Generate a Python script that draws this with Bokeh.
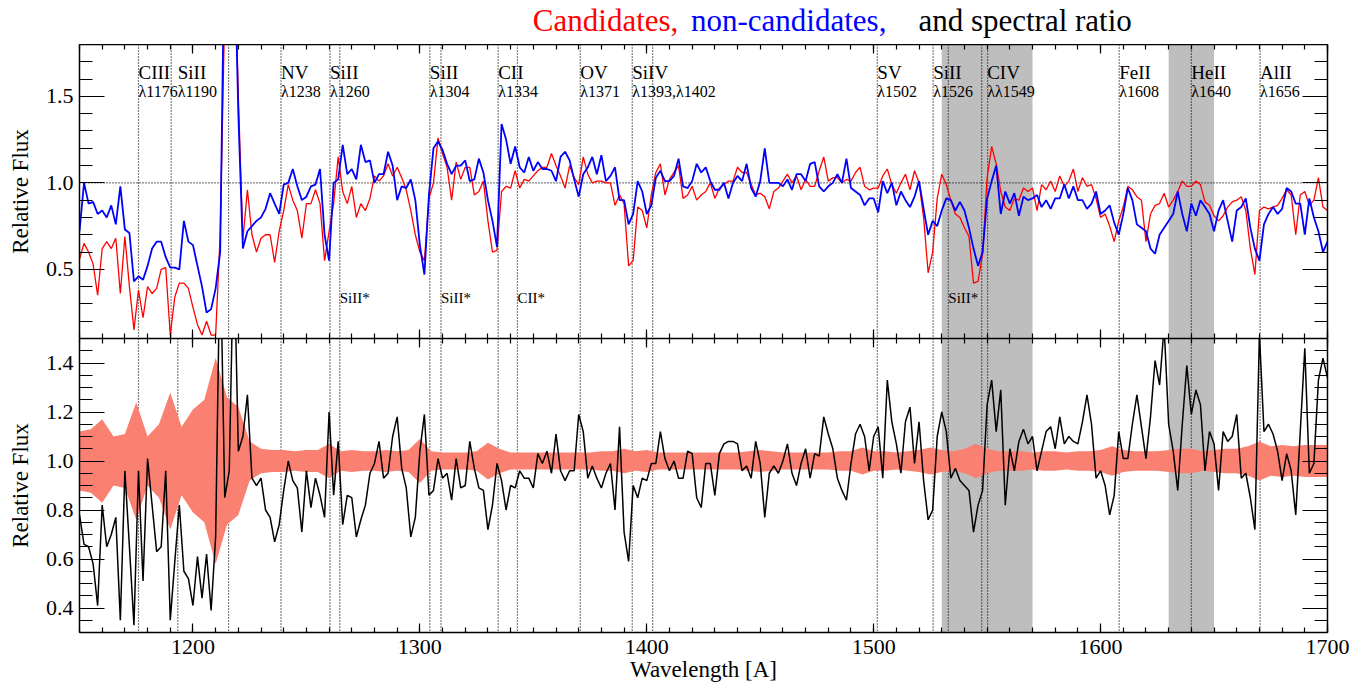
import numpy as np
from bokeh.plotting import figure
from bokeh.layouts import column
from bokeh.models import (Range1d, LinearAxis, FixedTicker, Span, BoxAnnotation,
                          ColumnDataSource, PrintfTickFormatter)
from bokeh.core.properties import value
from bokeh.embed import file_html
from bokeh.resources import INLINE

FONT = "Liberation Serif"

# ---------------- data ----------------
wave = list(range(1150, 1701, 2))  # sampling grid (A)

red = [
    0.56, 0.65, 0.60, 0.53, 0.35, 0.62, 0.66, 0.62, 0.68, 0.36, 0.69, 0.40, 0.15, 0.38, 0.22, 0.40, 0.36, 0.39, 0.50, 0.51, 0.12, 0.34, 0.42, 0.42, 0.39,
    0.28, 0.18, 0.12, 0.20, 0.12, 0.12, 0.70, 2.0, 3.0, 2.5, 1.5, 0.67, 0.96, 0.70, 0.60, 0.68, 0.70, 0.70, 0.54, 0.72, 0.84, 0.99, 0.90, 0.84, 0.68,
    0.88, 0.88, 0.96, 0.88, 0.55, 0.72, 0.88, 1.15, 0.95, 0.88, 0.98, 0.80, 0.88, 0.84, 0.91, 1.04, 1.01, 1.04, 1.11, 1.04, 1.09, 1.03, 0.96, 0.84, 0.70,
    0.60, 0.55, 0.91, 1.00, 1.26, 1.17, 1.09, 0.90, 1.12, 1.02, 1.09, 1.09, 0.93, 0.95, 1.01, 0.78, 0.60, 0.61, 0.95, 0.98, 0.97, 1.07, 0.97, 1.02, 1.01,
    1.04, 1.07, 1.09, 1.09, 1.17, 1.10, 1.04, 0.97, 1.10, 1.03, 0.99, 1.15, 1.05, 1.00, 1.01, 1.01, 1.00, 1.00, 0.87, 0.93, 0.88, 0.52, 0.55, 0.86, 0.84,
    0.74, 0.93, 1.06, 1.11, 0.93, 1.02, 1.06, 1.10, 0.91, 0.93, 0.98, 0.90, 0.93, 0.95, 1.00, 0.91, 0.97, 0.99, 1.01, 1.01, 1.09, 1.06, 1.06, 0.99, 0.93,
    0.94, 0.92, 0.85, 0.95, 0.97, 1.01, 1.05, 1.00, 1.04, 0.96, 1.02, 0.98, 0.98, 1.07, 1.15, 1.01, 1.03, 1.03, 1.00, 1.02, 1.01, 1.06, 1.09, 0.98, 0.96,
    0.97, 0.97, 1.04, 1.08, 0.99, 0.94, 1.00, 1.05, 0.96, 1.07, 1.00, 0.80, 0.48, 0.60, 0.91, 1.05, 0.99, 0.90, 0.82, 0.80, 0.74, 0.69, 0.42, 0.43, 0.59,
    1.03, 1.21, 1.11, 0.95, 0.86, 0.84, 0.91, 0.90, 0.97, 0.95, 0.97, 0.84, 0.99, 0.96, 1.01, 0.95, 1.04, 0.98, 1.01, 1.08, 0.95, 1.03, 0.98, 0.99, 0.91,
    0.80, 0.82, 0.75, 0.66, 0.78, 0.86, 0.98, 0.96, 0.92, 0.90, 0.66, 0.82, 0.87, 0.88, 0.94, 0.86, 0.90, 0.95, 1.01, 0.98, 0.98, 1.01, 0.99, 0.89, 0.87,
    0.81, 0.78, 0.81, 0.86, 0.89, 0.90, 0.92, 0.84, 0.62, 0.47, 0.84, 0.86, 0.85, 0.86, 0.87, 0.91, 0.96, 0.93, 0.70, 0.93, 0.95, 0.87, 0.90, 1.03, 0.86, 0.84,
]

blue = [
    0.72, 1.00, 0.88, 0.89, 0.82, 0.84, 0.80, 0.87, 0.76, 0.98, 0.73, 0.71, 0.43, 0.46, 0.44, 0.52, 0.62, 0.66, 0.66, 0.57, 0.51, 0.51, 0.50, 0.78, 0.66,
    0.64, 0.52, 0.40, 0.25, 0.27, 0.39, 0.60, 2.5, 3.0, 2.5, 1.4, 0.62, 0.72, 0.75, 0.78, 0.80, 0.85, 0.94, 0.88, 0.82, 0.99, 1.00, 1.08, 0.98, 0.90,
    0.92, 0.98, 0.99, 1.08, 0.70, 0.55, 1.00, 1.02, 1.22, 1.05, 1.08, 1.02, 1.22, 1.12, 1.13, 1.00, 1.05, 1.05, 1.18, 1.10, 0.90, 0.98, 0.97, 1.02, 0.90,
    0.64, 0.47, 0.93, 1.20, 1.24, 1.19, 1.11, 1.05, 1.10, 1.10, 1.13, 1.01, 1.02, 1.14, 1.06, 0.90, 0.78, 0.63, 1.34, 1.25, 1.11, 1.21, 1.09, 1.06, 1.15,
    1.07, 1.12, 1.08, 1.08, 1.07, 1.01, 1.15, 1.18, 1.13, 1.02, 0.92, 1.05, 1.09, 1.15, 1.05, 1.16, 1.01, 1.04, 1.09, 0.90, 0.90, 0.76, 0.82, 1.01, 0.95,
    0.82, 0.87, 1.03, 1.07, 1.01, 1.01, 1.04, 1.14, 0.98, 0.97, 1.01, 1.11, 1.06, 1.09, 1.01, 0.96, 0.96, 1.00, 0.91, 1.00, 1.04, 1.01, 1.11, 0.97, 0.92,
    1.01, 1.20, 1.00, 1.00, 1.00, 0.98, 1.02, 0.96, 1.05, 1.05, 1.01, 1.11, 1.12, 0.98, 0.95, 0.98, 1.00, 1.05, 1.00, 1.14, 0.97, 0.95, 0.93, 0.87, 0.91,
    0.91, 0.83, 1.01, 0.94, 1.00, 0.87, 0.95, 0.90, 0.86, 0.92, 1.01, 0.85, 0.70, 0.78, 0.75, 0.84, 0.91, 0.90, 0.84, 0.89, 0.84, 0.74, 0.62, 0.52, 0.60,
    0.91, 1.01, 1.10, 0.82, 0.95, 0.88, 0.94, 0.81, 0.92, 0.90, 0.91, 0.93, 0.86, 0.90, 0.85, 0.91, 0.91, 0.99, 0.91, 0.98, 0.90, 0.90, 0.85, 0.88, 0.95,
    0.82, 0.84, 0.87, 0.77, 0.70, 0.82, 0.97, 0.90, 0.76, 0.74, 0.72, 0.62, 0.59, 0.70, 0.74, 0.78, 0.82, 0.95, 0.82, 0.72, 0.88, 0.81, 0.90, 0.86, 0.82,
    0.72, 0.84, 0.90, 0.78, 0.66, 0.84, 0.86, 0.91, 0.74, 0.62, 0.55, 0.76, 0.82, 0.86, 0.82, 0.85, 0.97, 0.95, 0.88, 0.88, 0.70, 0.91, 0.80, 0.72, 0.60, 0.66,
]

ratio = [
    0.78, 0.66, 0.65, 0.58, 0.41, 0.82, 0.65, 0.70, 0.77, 0.35, 0.96, 0.65, 0.33, 0.96, 0.51, 1.01, 0.82, 0.63, 0.65, 0.96, 0.35, 0.59, 0.82, 0.55, 0.52,
    0.41, 0.61, 0.44, 0.62, 0.39, 0.69, 1.9, 0.85, 0.96, 1.9, 1.04, 1.10, 1.27, 0.93, 0.90, 0.93, 0.80, 0.77, 0.67, 0.74, 0.88, 1.00, 0.92, 0.89, 0.71,
    0.96, 0.81, 0.93, 0.86, 0.77, 1.20, 0.86, 1.08, 0.74, 0.86, 0.85, 0.69, 0.76, 0.82, 0.95, 0.99, 1.08, 0.93, 0.95, 1.10, 1.18, 0.97, 0.89, 0.69, 0.77,
    1.04, 1.19, 0.86, 0.88, 1.01, 0.93, 0.95, 0.84, 1.01, 0.89, 0.90, 1.08, 0.97, 0.89, 0.88, 0.72, 0.82, 0.99, 0.92, 0.80, 0.90, 0.89, 0.96, 0.93, 0.93,
    0.89, 1.03, 0.99, 1.04, 0.95, 1.11, 0.96, 0.92, 0.96, 0.96, 1.19, 1.12, 0.93, 0.98, 0.93, 0.89, 0.95, 0.99, 0.80, 1.14, 0.71, 0.59, 0.90, 0.85, 0.93,
    0.92, 0.99, 0.99, 1.12, 1.01, 0.96, 1.00, 0.93, 0.93, 1.04, 1.03, 0.85, 0.81, 0.99, 0.99, 0.86, 1.03, 1.07, 1.08, 1.08, 1.07, 0.96, 0.98, 0.93, 1.08,
    0.99, 0.77, 0.95, 0.98, 0.95, 1.00, 1.07, 0.95, 0.90, 0.99, 1.05, 0.93, 1.03, 1.02, 1.18, 1.11, 1.05, 0.93, 0.88, 0.84, 0.99, 1.11, 1.15, 1.10, 0.96,
    1.10, 1.14, 0.93, 1.33, 1.16, 1.07, 0.95, 1.16, 1.22, 0.99, 1.16, 0.92, 0.76, 0.80, 1.10, 1.20, 1.12, 0.93, 0.97, 0.92, 0.90, 0.88, 0.71, 0.82, 0.88,
    1.23, 1.33, 1.12, 1.29, 0.82, 1.05, 0.96, 1.08, 1.13, 1.07, 1.10, 0.96, 1.04, 1.12, 1.14, 1.05, 1.18, 1.07, 1.10, 1.08, 1.07, 1.16, 1.27, 1.15, 0.93,
    0.96, 0.90, 0.78, 0.86, 1.12, 1.01, 1.01, 1.15, 1.27, 1.14, 1.01, 1.18, 1.41, 1.31, 1.55, 1.15, 1.04, 0.88, 1.15, 1.39, 1.19, 1.29, 1.23, 0.96, 1.12,
    1.07, 0.88, 1.12, 1.08, 1.10, 1.19, 0.93, 0.95, 0.85, 0.72, 1.52, 1.12, 1.15, 1.11, 1.04, 0.92, 1.03, 0.96, 0.78, 1.12, 1.46, 0.95, 0.99, 1.33, 1.42, 1.34,
]

band_wave = list(range(1150, 1701, 5))
band_halfwidth = [
    0.12, 0.13, 0.17, 0.10, 0.11, 0.24, 0.10, 0.15, 0.28, 0.14,
    0.21, 0.25, 0.42, 0.26, 0.22, 0.08, 0.05, 0.045, 0.045, 0.04,
    0.045, 0.045, 0.07, 0.04, 0.045, 0.04, 0.04, 0.045, 0.04, 0.045,
    0.09, 0.04, 0.035, 0.035, 0.035, 0.04, 0.075, 0.05, 0.035, 0.035,
    0.035, 0.035, 0.035, 0.035, 0.035, 0.035, 0.04, 0.04, 0.05, 0.04,
    0.045, 0.035, 0.035, 0.035, 0.035, 0.035, 0.035, 0.035, 0.035, 0.04,
    0.045, 0.04, 0.035, 0.035, 0.035, 0.035, 0.035, 0.04, 0.04, 0.055,
    0.04, 0.04, 0.035, 0.04, 0.045, 0.055, 0.045, 0.04, 0.05, 0.07,
    0.05, 0.04, 0.04, 0.04, 0.035, 0.04, 0.04, 0.035, 0.04, 0.04,
    0.045, 0.06, 0.045, 0.04, 0.04, 0.04, 0.045, 0.05, 0.05, 0.04,
    0.045, 0.05, 0.05, 0.06, 0.08, 0.06, 0.065, 0.06, 0.065, 0.065, 0.065,
]

assert len(red) == len(wave) and len(blue) == len(wave) and len(ratio) == len(wave)
assert len(band_halfwidth) == len(band_wave)

# line markers
top_lines = [1176.0, 1190.4, 1215.7, 1238.8, 1260.4, 1264.7, 1304.4, 1309.3, 1334.5, 1343.0,
             1370.7, 1393.6, 1402.6, 1501.6, 1526.2, 1532.9, 1547.6, 1550.2, 1608.2, 1640.0, 1670.3]
bottom_lines = [1176.0, 1193.3, 1215.7, 1238.8, 1260.4, 1264.7, 1304.4, 1309.3, 1334.5, 1343.0,
                1370.7, 1393.6, 1402.6, 1501.6, 1526.2, 1532.9, 1547.6, 1550.2, 1608.2, 1640.0, 1670.3]
shaded = [(1530, 1570), (1630, 1650)]

ion_names = ["CIII", "SiII", "NV", "SiII", "SiII", "CII", "OV", "SiIV", "SV", "SiII", "CIV", "FeII", "HeII", "AlII"]
ion_waves = ["λ1176", "λ1190", "λ1238", "λ1260", "λ1304", "λ1334", "λ1371", "λ1393,λ1402", "λ1502",
             "λ1526", "λλ1549", "λ1608", "λ1640", "λ1656"]
ion_x = [1176.0, 1193.3, 1238.8, 1260.4, 1304.4, 1334.5, 1370.7, 1393.6, 1501.6, 1526.2, 1550.0, 1608.2, 1640.0, 1670.3]
star_names = ["SiII*", "SiII*", "CII*", "SiII*"]
star_x = [1264.7, 1309.3, 1343.0, 1532.9]

title_parts = ["Candidates,", "non-candidates,", "and spectral ratio"]
title_colors = ["#ff0000", "#0000ff", "black"]
title_x = [1349.8, 1419.5, 1519.7]

x_major = [1200, 1300, 1400, 1500, 1600, 1700]
x_minor = list(range(1150, 1701, 10))

# ---------------- figures ----------------
W = 1356
LEFT = 79
RIGHT = W - 1327
x_range = Range1d(1150, 1700)


def style_axis(ax, ticks, minor, tin, mtin, labels):
    ax.ticker = FixedTicker(ticks=ticks, minor_ticks=minor)
    ax.major_tick_in = tin
    ax.major_tick_out = 0
    ax.minor_tick_in = mtin
    ax.minor_tick_out = 0
    ax.axis_line_color = "black"
    ax.axis_line_width = 1.5
    ax.major_tick_line_color = "black"
    ax.minor_tick_line_color = "black"
    ax.major_tick_line_width = 1.2
    ax.minor_tick_line_width = 1.2
    ax.major_label_text_font = FONT
    if labels:
        ax.major_label_text_color = "black"
        ax.major_label_text_font_size = "22px"
    else:
        ax.major_label_text_color = None
        ax.major_label_text_font_size = "0px"
        ax.major_label_standoff = 0


def make_fig(height, yr, ticks, minor, mb_bottom, xlabels):
    p = figure(width=W, height=height, x_range=x_range, y_range=Range1d(*yr),
               output_backend="svg", toolbar_location=None,
               x_axis_location=None, y_axis_location=None,
               min_border_left=LEFT, min_border_right=RIGHT,
               min_border_top=0, min_border_bottom=mb_bottom)
    p.outline_line_color = None
    p.grid.grid_line_color = None
    p.background_fill_color = "white"
    p.border_fill_color = "white"

    left = LinearAxis(axis_label="Relative Flux")
    style_axis(left, ticks, minor, 25, 13, True)
    left.formatter = PrintfTickFormatter(format="%.1f")
    left.major_label_standoff = 6
    left.axis_label_standoff = 10
    left.axis_label_text_font = FONT
    left.axis_label_text_font_size = "23px"
    left.axis_label_text_font_style = "normal"
    left.axis_label_text_color = "black"
    p.add_layout(left, "left")

    right = LinearAxis()
    style_axis(right, ticks, minor, 25, 13, False)
    p.add_layout(right, "right")

    above = LinearAxis()
    style_axis(above, x_major, x_minor, 9, 5, False)
    p.add_layout(above, "above")

    below = LinearAxis()
    style_axis(below, x_major, x_minor, 9, 5, xlabels)
    if xlabels:
        below.major_label_standoff = 7
        below.formatter = PrintfTickFormatter(format="%d")
        below.axis_label = "Wavelength [A]"
        below.axis_label_standoff = 0
        below.axis_label_text_font = FONT
        below.axis_label_text_font_size = "23px"
        below.axis_label_text_font_style = "normal"
        below.axis_label_text_color = "black"
    p.add_layout(below, "below")

    for lo, hi in shaded:
        p.add_layout(BoxAnnotation(left=lo, right=hi, fill_color="#bebebe", fill_alpha=1.0,
                                   line_color=None, level="underlay"))
    return p


# ---- title strip ----
pt = figure(width=W, height=44, x_range=x_range, y_range=Range1d(0, 44),
            output_backend="svg", toolbar_location=None,
            x_axis_location=None, y_axis_location=None,
            min_border_left=LEFT, min_border_right=RIGHT, min_border_top=0, min_border_bottom=0)
pt.outline_line_color = None
pt.grid.grid_line_color = None
title_src = ColumnDataSource(dict(x=title_x, y=[24.5] * 3, text=title_parts, color=title_colors))
pt.text(x="x", y="y", text="text", text_color="color", source=title_src, text_font=value(FONT),
        text_font_size="31px", text_baseline="middle", text_align="left")

# ---- top panel ----
p1 = make_fig(294, (0.1, 1.8), [0.5, 1.0, 1.5], [round(0.1 * i, 1) for i in range(1, 19)], 0, False)
for w in top_lines:
    p1.add_layout(Span(location=w, dimension="height", line_color="black",
                       line_dash="1 2", line_width=1.2, level="underlay"))
p1.add_layout(Span(location=1.0, dimension="width", line_color="black",
                   line_dash="1 2", line_width=1.2, level="underlay"))

p1.line(wave, red, line_color="#ff0000", line_width=1.3)
p1.line(wave, blue, line_color="#0000ff", line_width=1.8)

ion_src = ColumnDataSource(dict(x=ion_x, name=ion_names, wl=ion_waves,
                                y1=[1.64] * len(ion_x), y2=[1.53] * len(ion_x)))
p1.text(x="x", y="y1", text="name", source=ion_src, text_font=value(FONT),
        text_font_size="19px", text_baseline="middle", text_align="left", text_color="black")
p1.text(x="x", y="y2", text="wl", source=ion_src, text_font=value(FONT),
        text_font_size="16px", text_baseline="middle", text_align="left", text_color="black")
star_src = ColumnDataSource(dict(x=star_x, name=star_names, y=[0.337] * len(star_x)))
p1.text(x="x", y="y", text="name", source=star_src, text_font=value(FONT),
        text_font_size="15px", text_baseline="middle", text_align="left", text_color="black")

# ---- bottom panel ----
p2 = make_fig(351, (0.3, 1.5), [0.4, 0.6, 0.8, 1.0, 1.2, 1.4],
              [round(0.3 + 0.05 * i, 2) for i in range(0, 25)], 57, True)
for w in bottom_lines:
    p2.add_layout(Span(location=w, dimension="height", line_color="black",
                       line_dash="1 2", line_width=1.2, level="underlay"))

band_hw = np.array(band_halfwidth)
p2.varea(x=band_wave, y1=1.0 - band_hw, y2=1.0 + band_hw, fill_color="#fa8072", fill_alpha=1.0)
p2.line(wave, ratio, line_color="black", line_width=1.5)

layout = column(pt, p1, p2, spacing=0)
open("out.html", "w").write(file_html(layout, INLINE))
